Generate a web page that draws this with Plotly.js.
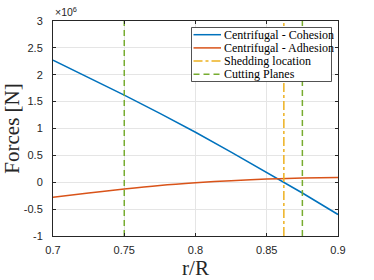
<!DOCTYPE html>
<html>
<head>
<meta charset="utf-8">
<script src="https://cdn.plot.ly/plotly-3.0.1.min.js"></script>
<style>html,body{margin:0;padding:0;background:#fff;}#chart{width:374px;height:280px;}</style>
</head>
<body>
<div id="chart"></div>
<script>
// r/R positions
const rValues = [0.7, 0.725, 0.75, 0.775, 0.8, 0.825, 0.85, 0.875, 0.9];
// Forces, in units of 1e6 N
const cohesion = [2.27, 1.95, 1.62, 1.28, 0.93, 0.56, 0.18, -0.20, -0.60];
const adhesion = [-0.28, -0.20, -0.125, -0.06, -0.01, 0.03, 0.06, 0.078, 0.088];
const sheddingLocation = 0.862;
const cuttingPlanes = [0.75, 0.875];
const yLimits = [-1, 3];
const xTickVals = [0.7, 0.75, 0.8, 0.85, 0.9];
const xTickText = ["0.7", "0.75", "0.8", "0.85", "0.9"];
const yTickVals = [-1, -0.5, 0, 0.5, 1, 1.5, 2, 2.5, 3];
const yTickText = ["-1", "-0.5", "0", "0.5", "1", "1.5", "2", "2.5", "3"];
const seriesNames = ["Centrifugal - Cohesion", "Centrifugal - Adhesion", "Shedding location", "Cutting Planes"];

const colors = ['#0072BD', '#D95319', '#EDB120', '#77AC30'];
const dashes = ['solid', 'solid', 'dashdot', '6px,4px'];
const serif = '"Liberation Serif", "DejaVu Serif", serif';
const sans = '"Liberation Sans", Arial, sans-serif';

const cutX = [], cutY = [];
cuttingPlanes.forEach(function (c) { cutX.push(c, c, null); cutY.push(yLimits[0], yLimits[1], null); });

const traces = [
  {x: rValues, y: cohesion, mode: 'lines', name: seriesNames[0], line: {color: colors[0], width: 1.5}},
  {x: rValues, y: adhesion, mode: 'lines', name: seriesNames[1], line: {color: colors[1], width: 1.5, shape: 'spline'}},
  {x: [sheddingLocation, sheddingLocation], y: yLimits, mode: 'lines', name: seriesNames[2], line: {color: colors[2], width: 1.5, dash: dashes[2]}},
  {x: cutX, y: cutY, mode: 'lines', name: seriesNames[3], line: {color: colors[3], width: 1.5, dash: dashes[3]}}
];

// plot-area geometry (pixels) for placing the legend box
const W = 374, H = 280, mL = 53, mR = 36, mT = 21, mB = 44;
const pw = W - mL - mR, ph = H - mT - mB;
function px(X) { return (X - mL) / pw; }
function py(Y) { return 1 - (Y - mT) / ph; }

const shapes = [{
  type: 'rect', xref: 'paper', yref: 'paper',
  x0: px(191.5), x1: px(331.5), y0: py(81.5), y1: py(27.5),
  fillcolor: '#fff', line: {color: '#262626', width: 0.8}, layer: 'above'
}];
const annotations = [{
  xref: 'paper', yref: 'paper', x: 0, y: 1, xanchor: 'left', yanchor: 'bottom', yshift: 1,
  text: '×10<sup>6</sup>', showarrow: false,
  font: {family: sans, size: 10.5, color: '#262626'}
}];
seriesNames.forEach(function (name, i) {
  const rowY = 34.7 + i * 13.2;
  shapes.push({
    type: 'line', xref: 'paper', yref: 'paper',
    x0: px(193.5), x1: px(221), y0: py(rowY), y1: py(rowY),
    line: {color: colors[i], width: 1.5, dash: dashes[i]}, layer: 'above'
  });
  annotations.push({
    xref: 'paper', yref: 'paper', x: px(222), y: py(rowY), xanchor: 'left', yanchor: 'middle',
    text: name, showarrow: false,
    font: {family: serif, size: 12, color: '#000'}
  });
});

const axisCommon = {
  showgrid: true, gridcolor: '#e5e5e5', gridwidth: 1,
  zeroline: false, showline: true, linecolor: '#262626', linewidth: 1,
  mirror: 'ticks', ticks: 'inside', ticklen: 3, tickcolor: '#262626',
  tickfont: {family: sans, size: 11, color: '#262626'}
};

const layout = {
  width: W, height: H,
  margin: {l: mL, r: mR, t: mT, b: mB},
  paper_bgcolor: '#fff', plot_bgcolor: '#fff',
  showlegend: false,
  xaxis: Object.assign({}, axisCommon, {
    range: [0.7, 0.9], tickvals: xTickVals, ticktext: xTickText, ticklabelstandoff: 4,
    title: {text: 'r/R', font: {family: serif, size: 21, color: '#262626'}, standoff: 2}
  }),
  yaxis: Object.assign({}, axisCommon, {
    range: yLimits, tickvals: yTickVals, ticktext: yTickText, ticklabelstandoff: 7,
    title: {text: 'Forces [N]', font: {family: serif, size: 21, color: '#262626'}, standoff: 4}
  }),
  shapes: shapes,
  annotations: annotations
};

Plotly.newPlot('chart', traces, layout, {displayModeBar: false, staticPlot: true});
</script>
</body>
</html>
